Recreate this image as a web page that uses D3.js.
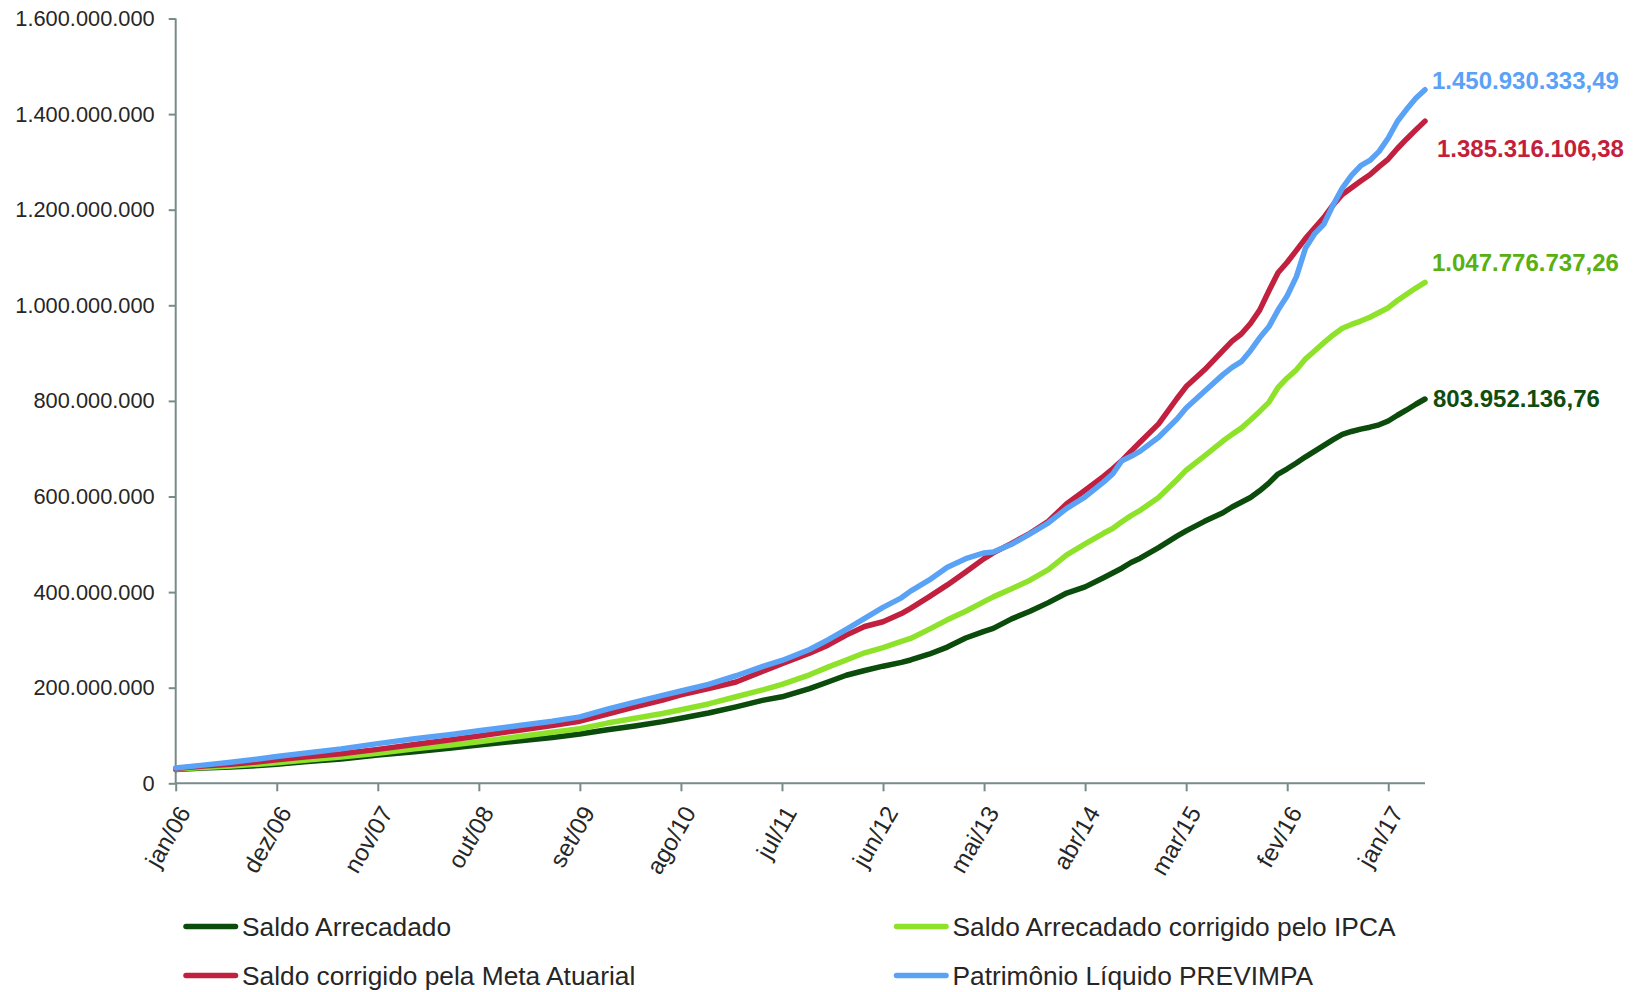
<!DOCTYPE html>
<html><head><meta charset="utf-8">
<script src="https://cdn.jsdelivr.net/npm/d3@7"></script>
<style>body{margin:0;background:#fff} svg{display:block}</style>
</head><body>
<svg id="c" width="1635" height="992"></svg>
<script>
// ---------- data ----------
const monthNames = ["jan","fev","mar","abr","mai","jun","jul","ago","set","out","nov","dez"];
const years = ["06","07","08","09","10","11","12","13","14","15","16","17"];
const lastCategory = "mai/17";
const tickLabels = ["jan/06","dez/06","nov/07","out/08","set/09","ago/10","jul/11","jun/12","mai/13","abr/14","mar/15","fev/16","jan/17"];
const yTicks = [0,200e6,400e6,600e6,800e6,1000e6,1200e6,1400e6,1600e6];

// sample points: months counted from jan/06
const monthIndex = [0,3,6,9,11,14,18,22,26,30,33,37,41,44,47,50,53,55,58,61,64,66,69,71,73,75,77,79,80,82,84,86,88,89,91,93,95,97,99,101,102,103,104,105,107,109,110,112,114,115,116,117,118,119,120,121,122,123,124,125,126,127,128,129,130,131,132,133,134,135,136];

// values in millions of R$
const saldoArrecadado = [29,32,34,37,40,45,51,59,66,74,80,88,96,103,112,120,129,136,147,160,174,181,198,212,226,236,245,253,258,270,285,304,318,324,344,360,378,398,411,430,440,450,462,471,493,517,528,548,566,578,588,598,612,628,647,658,670,683,695,707,719,730,736,741,745,750,758,770,781,793,803.95213676];
const saldoIPCA = [30,33,36,40,43,48,55,63,72,80,87,97,107,114,126,136,146,154,166,181,196,207,227,243,258,273,284,297,303,322,342,360,380,390,407,425,447,478,501,523,533,547,560,571,598,635,655,685,716,730,743,760,778,797,828,848,865,888,905,922,938,952,960,967,975,985,995,1010,1023,1036,1047.77673726];
const saldoMeta = [31,36,40,45,49,55,62,71,81,91,99,110,121,130,145,160,174,185,198,212,235,250,272,289,310,328,338,355,366,390,415,442,470,482,502,523,548,585,613,642,658,675,695,714,752,805,830,865,905,925,940,962,990,1030,1068,1090,1115,1140,1162,1184,1210,1232,1246,1260,1273,1290,1306,1328,1348,1367,1385.31610638];
const patrimonio = [32,38,44,51,56,63,72,83,93,102,110,120,130,139,155,170,184,193,207,225,245,257,280,300,322,345,368,388,402,425,452,470,482,484,500,522,545,575,599,630,647,675,684,695,724,762,785,820,855,870,882,905,932,955,990,1020,1060,1120,1150,1170,1210,1245,1272,1292,1303,1322,1350,1385,1410,1433,1450.93033349];

const seriesNames = ["Saldo Arrecadado","Saldo Arrecadado corrigido pelo IPCA","Saldo corrigido pela Meta Atuarial","Patrimônio Líquido PREVIMPA"];
const seriesValues = [saldoArrecadado, saldoIPCA, saldoMeta, patrimonio];

// ---------- styles / layout ----------
const lineColors = ["#0b4b0b","#8ee22a","#c2203f","#5aa2f6"];
const labelColors = ["#0e4d0e","#5aaf12","#c41e3a","#5aa2f6"];
const labelOffsets = [0,-20,27,-9];   // vertical nudges of end labels
const labelDx = [8,7,12,7];
const drawOrder = [0,1,2,3];

const categories = [];
for (const y of years) for (const m of monthNames) categories.push(m + "/" + y);
categories.length = categories.indexOf(lastCategory) + 1;

const locale = d3.formatLocale({decimal: ",", thousands: ".", grouping: [3], currency: ["R$", ""]});
const fmtTick = locale.format(",.0f");
const fmtLabel = locale.format(",.2f");

const svg = d3.select("#c");
const axisColor = "#788a8a";
const textColor = "#262626";
const baseFont = "'Liberation Sans', Arial, sans-serif";

const x = d3.scalePoint().domain(categories).range([175.7, 1425]);
const y = d3.scaleLinear().domain([0, 1.6e9]).range([783.3, 18.5]);

// Y axis
const yAxis = d3.axisLeft(y).tickValues(yTicks).tickFormat(fmtTick).tickSize(7).tickPadding(14);
const gy = svg.append("g").attr("transform", "translate(175.7,0)").call(yAxis);
gy.select(".domain").attr("stroke", axisColor).attr("stroke-width", 2).attr("d", "M0," + y(1.6e9) + "V" + y(0));
gy.selectAll(".tick line").attr("stroke", axisColor).attr("stroke-width", 2);
gy.selectAll(".tick text").attr("fill", textColor).style("font-family", baseFont).style("font-size", "21.8px");

// X axis
const xAxis = d3.axisBottom(x).tickValues(tickLabels).tickSize(8).tickFormat(d => d);
const gx = svg.append("g").attr("transform", "translate(0,783.3)").call(xAxis);
gx.select(".domain").attr("stroke", axisColor).attr("stroke-width", 2).attr("d", "M175.7,0H1425");
gx.selectAll(".tick line").attr("stroke", axisColor).attr("stroke-width", 2);
gx.selectAll(".tick text")
  .attr("fill", textColor)
  .style("font-family", baseFont).style("font-size", "24px")
  .attr("text-anchor", "end")
  .attr("dy", "0.35em")
  .attr("y", 0)
  .attr("transform", "translate(8,25) rotate(-60)");

// lines
const line = d3.line()
  .x(d => x(categories[d[0]]))
  .y(d => y(d[1] * 1e6))
  .curve(d3.curveLinear);

drawOrder.forEach(i => {
  const pts = monthIndex.map((m, k) => [m, seriesValues[i][k]]);
  svg.append("path").datum(pts)
    .attr("d", line)
    .attr("fill", "none")
    .attr("stroke", lineColors[i])
    .attr("stroke-width", 5.5)
    .attr("stroke-linejoin", "round")
    .attr("stroke-linecap", "round");
});

// end labels
seriesValues.forEach((vals, i) => {
  const lastV = vals[vals.length - 1] * 1e6;
  const lastM = monthIndex[monthIndex.length - 1];
  svg.append("text")
    .attr("x", x(categories[lastM]) + labelDx[i])
    .attr("y", y(lastV) + labelOffsets[i])
    .attr("dy", "0.35em")
    .attr("fill", labelColors[i])
    .style("font-family", baseFont)
    .style("font-weight", "bold")
    .style("font-size", "24px")
    .text(fmtLabel(Math.round(lastV * 100) / 100));
});

// legend
const legendPos = [[183.5, 926.5], [894, 926.5], [183.5, 975.5], [894, 975.5]];
const legendLen = 54.5;
seriesNames.forEach((name, i) => {
  const [lx, ly] = legendPos[i];
  const g = svg.append("g");
  g.append("line").attr("x1", lx + 2.5).attr("x2", lx + legendLen - 2.5).attr("y1", ly).attr("y2", ly)
    .attr("stroke", lineColors[i]).attr("stroke-width", 5.5).attr("stroke-linecap", "round");
  g.append("text").attr("x", lx + legendLen + 4).attr("y", ly).attr("dy", "0.35em")
    .attr("fill", textColor)
    .style("font-family", baseFont)
    .style("font-size", "26.3px")
    .text(name);
});
</script>
</body></html>
